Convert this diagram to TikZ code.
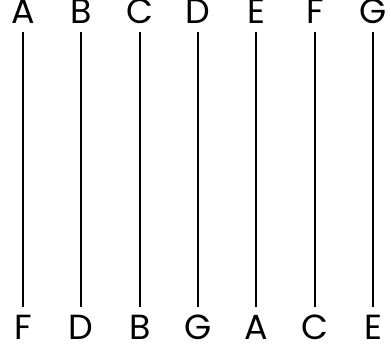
\documentclass[tikz,border=0pt]{standalone}
\usepackage{fontspec}
\setmainfont{Poppins}
\begin{document}
\begin{tikzpicture}[x=1bp,y=-1bp,
  lab/.style={font=\fontsize{35}{35}\selectfont, inner sep=0pt, anchor=base},
  vline/.style={line width=1.5bp, black}]
\useasboundingbox (0,0) rectangle (390,344);
\foreach \t/\b [count=\i from 0] in {A/F,B/D,C/B,D/G,E/A,F/C,G/E}{
  \pgfmathsetmacro{\xx}{round(23+58.3*\i)}
  \node[lab] (t\i) at (\xx,23) {\t};
  \node[lab] (b\i) at (\xx,339) {\b};
  \coordinate (s\i) at (\xx,32);
  \coordinate (e\i) at (\xx,307);
  \draw[vline] (s\i) -- (e\i);
}
\end{tikzpicture}
\end{document}
